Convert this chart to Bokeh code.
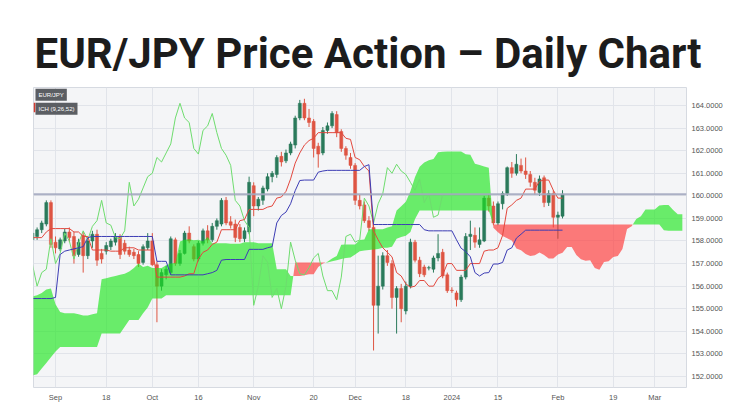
import numpy as np
import pandas as pd
from bokeh.plotting import figure
from bokeh.models import Range1d, FixedTicker, PrintfTickFormatter, Label, Span, BoxAnnotation
from bokeh.embed import file_html
from bokeh.resources import INLINE

# ---------------- data ----------------
start_date = "2023-08-25"

opens = [158.05, 158.2, 158.5, 158.75, 159.7, 157.95, 157.65, 158.0, 158.4, 158.2,
         157.4, 158.25, 157.35, 158.0, 158.3, 157.45, 157.55, 157.75, 157.95, 158.2,
         157.9, 157.6, 157.5, 157.4, 157.05, 157.7, 158.0, 156.95, 156.0, 156.5,
         156.6, 158.05, 157.0, 157.45, 158.35, 157.75, 157.2, 157.9, 158.45, 158.05,
         158.65, 158.75, 159.8, 158.85, 158.75, 158.6, 158.1, 158.4, 160.45, 159.55,
         159.8, 160.3, 160.85, 160.95, 161.75, 161.55, 161.9, 162.25, 163.45, 164.1,
         163.45, 163.3, 162.2, 161.9, 162.9, 163.1, 163.6, 162.85, 162.1, 161.7,
         161.35, 159.8, 159.6, 158.9, 158.6, 155.15, 156.0, 157.35, 157.0, 155.5,
         155.9, 154.9, 156.0, 157.95, 157.15, 156.85, 156.8, 156.75, 157.25, 157.5,
         156.5, 155.82, 155.7, 155.4, 156.4, 158.2, 158.25, 157.85, 158.0, 159.9,
         159.55, 158.8, 159.65, 160.1, 161.25, 161.0, 161.35, 161.1, 160.95, 160.6,
         160.15, 160.8, 159.7, 160.1, 159.05, 159.1]
highs = [158.5, 158.6, 158.9, 159.8, 159.8, 158.2, 158.15, 158.55, 158.6, 158.4,
         158.1, 158.4, 158.15, 158.45, 158.5, 157.65, 157.95, 158.1, 158.35, 158.3,
         158.05, 157.75, 157.65, 157.55, 157.85, 158.35, 158.35, 157.1, 156.75, 156.9,
         158.2, 158.15, 157.6, 158.45, 158.65, 157.85, 158.0, 158.55, 158.7, 158.8,
         159.0, 159.9, 159.95, 159.1, 158.95, 158.75, 158.6, 160.85, 160.6, 159.95,
         160.45, 161.0, 161.1, 161.8, 161.95, 162.05, 162.4, 163.55, 164.25, 164.3,
         163.85, 163.4, 162.35, 163.05, 163.25, 163.75, 163.75, 162.95, 162.2, 161.9,
         161.45, 160.05, 159.75, 159.1, 158.75, 157.35, 157.5, 157.6, 157.15, 156.0,
         156.1, 156.2, 158.1, 158.05, 157.3, 156.95, 156.9, 157.35, 158.3, 157.65,
         156.6, 155.95, 155.8, 156.5, 158.35, 158.9, 158.6, 158.6, 160.0, 160.05,
         159.75, 159.75, 160.2, 161.3, 161.5, 161.85, 161.65, 161.7, 161.1, 160.8,
         160.9, 160.9, 160.25, 160.25, 159.3, 160.25]
lows = [157.9, 158.05, 158.35, 158.65, 157.7, 157.45, 157.55, 157.9, 157.95, 157.0,
        157.3, 156.6, 157.2, 157.7, 156.9, 157.0, 157.4, 157.6, 157.8, 157.2,
        157.4, 157.3, 157.2, 156.85, 156.95, 157.6, 156.9, 154.4, 155.8, 156.3,
        156.5, 156.9, 156.9, 157.4, 157.9, 157.1, 157.1, 157.8, 157.9, 157.95,
        158.5, 158.65, 158.7, 158.55, 157.95, 157.95, 157.95, 158.3, 159.1, 159.35,
        159.6, 160.2, 160.6, 160.8, 161.3, 161.45, 161.8, 162.1, 163.35, 163.35,
        163.05, 161.7, 161.25, 161.8, 162.75, 163.0, 162.6, 161.95, 161.6, 161.2,
        159.6, 159.4, 158.8, 158.45, 153.15, 153.9, 155.85, 156.9, 155.0, 153.9,
        154.4, 154.75, 155.9, 157.05, 156.4, 156.4, 156.7, 156.6, 157.1, 156.35,
        155.7, 155.7, 155.1, 155.3, 156.3, 157.6, 157.7, 157.7, 157.95, 159.3,
        158.7, 158.7, 159.4, 160.0, 160.8, 160.9, 161.0, 160.75, 160.4, 160.05,
        160.0, 159.5, 159.55, 158.6, 158.1, 159.0]
closes = [158.35, 158.5, 158.8, 159.7, 157.85, 157.7, 158.05, 158.4, 158.15, 157.35,
          157.95, 157.35, 158.0, 158.3, 157.15, 157.2, 157.8, 158.0, 158.2, 157.4,
          157.55, 157.4, 157.35, 157.0, 157.75, 158.0, 156.95, 156.0, 156.6, 156.75,
          158.1, 157.0, 157.45, 158.35, 158.0, 157.2, 157.9, 158.45, 158.05, 158.65,
          158.9, 159.8, 158.8, 158.7, 158.15, 158.1, 158.45, 160.6, 159.55, 159.85,
          160.35, 160.85, 161.0, 161.7, 161.5, 161.9, 162.3, 163.45, 164.1, 163.45,
          163.25, 162.1, 161.85, 162.9, 163.1, 163.65, 162.8, 162.1, 161.8, 161.35,
          159.8, 159.55, 158.9, 158.6, 155.15, 156.0, 157.35, 157.05, 155.5, 155.9,
          155.0, 156.0, 157.95, 157.15, 156.55, 156.5, 156.82, 157.25, 157.45, 156.45,
          155.8, 155.8, 155.4, 156.4, 158.2, 158.3, 157.95, 158.05, 159.9, 159.55,
          158.8, 159.65, 160.1, 161.25, 161.0, 161.4, 161.1, 160.95, 160.6, 160.25,
          160.75, 159.7, 160.1, 159.05, 159.15, 160.073]

# Ichimoku lines
tenkan = [158.15, 158.15, 158.15, 158.4, 158.55, 158.55, 158.55, 158.55, 158.55, 158.4,
          158.4, 158.2, 158.2, 157.6, 157.6, 157.6, 157.6, 157.55, 157.55, 157.55,
          157.7, 157.7, 157.7, 157.6, 157.6, 157.6, 157.6, 156.4, 156.4, 156.4,
          156.4, 156.4, 156.4, 156.45, 156.55, 156.55, 157.2, 157.5, 157.6, 157.85,
          157.95, 158.5, 158.5, 158.5, 158.5, 158.9, 158.95, 159.4, 159.4, 159.4,
          159.4, 159.5, 159.55, 159.9, 159.95, 160.2, 160.75, 161.45, 161.9, 162.25,
          162.45, 162.55, 162.8, 162.8, 162.8, 162.8, 162.8, 162.8, 162.55, 162.5,
          161.7, 161.6, 161.3, 161.1, 158.45, 158.05, 157.7, 157.5, 157.3, 156.6,
          156.45, 156.1, 155.95, 156.0, 156.25, 156.25, 156.0, 156.0, 156.35, 156.5,
          157.0, 157.0, 156.7, 156.7, 156.7, 157.0, 157.0, 157.0, 157.55, 157.6,
          157.6, 157.7, 158.25, 159.45, 159.6, 159.8, 159.9, 160.3, 160.3, 160.3,
          160.65, 160.7, 160.7, 160.25, 159.9, 159.9]
kijun = [155.45, 155.45, 155.45, 155.45, 155.45, 155.5, 157.4, 157.55, 157.6, 157.65,
         157.7, 157.75, 158.15, 158.2, 158.2, 158.2, 158.2, 158.2, 158.2, 158.2,
         158.2, 158.2, 158.2, 158.2, 158.2, 158.2, 158.2, 157.1, 157.1, 157.1,
         156.5, 156.5, 156.5, 156.5, 156.5, 156.5, 156.5, 156.5, 156.55, 156.6,
         156.7, 157.15, 157.18, 157.18, 157.18, 157.18, 157.18, 157.63, 157.63, 157.63,
         157.63, 157.7, 157.75, 158.8, 159.13, 159.28, 159.65, 160.23, 160.68, 160.7,
         160.7, 160.7, 161.05, 161.1, 161.13, 161.13, 161.13, 161.13, 161.13, 161.13,
         161.13, 161.13, 161.3, 161.38, 158.73, 158.73, 158.73, 158.73, 158.73, 158.73,
         158.73, 158.73, 158.73, 158.73, 158.73, 158.5, 158.45, 158.45, 158.45, 158.45,
         158.45, 158.45, 158.05, 157.68, 157.53, 157.3, 156.6, 156.45, 156.58, 156.6,
         156.98, 156.98, 157.05, 157.6, 157.7, 158.13, 158.3, 158.48, 158.48, 158.48,
         158.48, 158.48, 158.48, 158.48, 158.48, 158.48]
span_a = [155.55, 155.6, 155.7, 155.85, 155.9, 155.2, 154.85, 154.8, 154.8, 154.8,
          154.75, 154.7, 154.7, 154.75, 154.8, 156.3, 156.35, 156.4, 156.45, 156.5,
          156.55, 156.65, 156.8, 157.0, 156.85, 156.9, 156.8, 156.8, 156.8, 156.93,
          157.0, 157.03, 157.98, 158.05, 158.08, 158.03, 158.05, 157.98, 158.18, 157.9,
          157.9, 157.9, 157.9, 157.88, 157.88, 157.88, 157.95, 157.95, 157.95, 157.9,
          157.9, 157.9, 157.9, 156.75, 156.75, 156.75, 156.45, 156.45, 156.45, 156.48,
          156.53, 156.53, 156.85, 157.0, 157.08, 157.23, 157.33, 157.83, 157.84, 157.84,
          157.84, 158.04, 158.07, 158.52, 158.52, 158.52, 158.52, 158.6, 158.65, 159.35,
          159.54, 159.74, 160.2, 160.84, 161.29, 161.48, 161.58, 161.63, 161.93, 161.95,
          161.97, 161.97, 161.97, 161.97, 161.84, 161.82, 161.42, 161.37, 161.3, 161.24,
          158.59, 158.39, 158.22, 158.12, 158.02, 157.67, 157.59, 157.42, 157.34, 157.37,
          157.49, 157.38, 157.23, 157.23, 157.4, 157.48, 157.73, 157.73, 157.38, 157.19,
          157.12, 157.15, 156.8, 156.73, 157.07, 157.1, 157.29, 157.34, 157.65, 158.53,
          158.65, 158.97, 159.1, 159.39, 159.39, 159.39, 159.57, 159.59, 159.59, 159.37,
          159.19, 159.19]
span_b = [152.05, 152.1, 152.35, 152.6, 152.85, 153.1, 153.3, 153.3, 153.3, 153.3,
          153.3, 153.3, 153.3, 153.3, 153.3, 153.9, 153.9, 153.9, 153.9, 153.9,
          154.2, 154.5, 154.5, 154.5, 154.8, 155.05, 155.45, 155.45, 155.45, 155.6,
          155.6, 155.6, 155.6, 155.6, 155.6, 155.6, 155.6, 155.6, 155.6, 155.6,
          155.6, 155.6, 155.6, 155.6, 155.6, 155.6, 155.6, 155.6, 155.6, 155.6,
          155.6, 155.6, 155.6, 155.6, 155.6, 155.6, 155.6, 157.05, 157.05, 157.05,
          157.05, 157.05, 157.05, 157.05, 157.05, 157.1, 157.15, 157.2, 157.25, 157.27,
          157.4, 157.55, 157.58, 157.6, 157.62, 157.65, 157.7, 157.7, 157.75, 158.1,
          158.18, 158.23, 158.4, 158.98, 159.35, 159.35, 159.35, 159.35, 159.35, 159.35,
          159.35, 159.35, 159.35, 159.35, 159.35, 159.35, 159.35, 159.35, 159.35, 159.35,
          158.73, 158.73, 158.73, 158.73, 158.73, 158.73, 158.73, 158.73, 158.73, 158.73,
          158.73, 158.73, 158.73, 158.73, 158.73, 158.73, 158.73, 158.73, 158.73, 158.73,
          158.73, 158.73, 158.73, 158.73, 158.73, 158.73, 158.73, 158.73, 158.73, 158.73,
          158.73, 158.73, 158.73, 158.73, 158.73, 158.73, 158.73, 158.48, 158.45, 158.45,
          158.45, 158.45]
chikou_shift = 26

tick_dates = ["2023-09-01", "2023-09-18", "2023-10-02", "2023-10-16", "2023-11-01",
              "2023-11-20", "2023-12-01", "2023-12-18", "2024-01-01", "2024-01-15",
              "2024-02-01", "2024-02-19", "2024-03-01"]
tick_labels = ["Sep", "18", "Oct", "16", "Nov", "20", "Dec", "18", "2024", "15",
               "Feb", "19", "Mar"]
price_ticks = [152, 153, 154, 155, 156, 157, 158, 159, 160, 161, 162, 163, 164]
last_price = 160.073
title_text = "EUR/JPY Price Action \u2013 Daily Chart"

# ---------------- build ----------------
all_dates = pd.bdate_range(start_date, periods=len(span_a))
tick_pos = [int(all_dates.get_loc(pd.Timestamp(d))) for d in tick_dates]

o = np.array(opens); h = np.array(highs); l = np.array(lows); c = np.array(closes)
idx = np.arange(len(closes))
up = c >= o
dn = ~up

UP = "#2a7a5b"
DN = "#de5543"

p = figure(width=750, height=412, output_backend="svg", toolbar_location=None,
           x_range=Range1d(0.22, 141.9), y_range=Range1d(151.51, 164.8),
           y_axis_location="right",
           min_border_left=33, min_border_right=64, min_border_top=87, min_border_bottom=25)

p.background_fill_color = "#f4f5f7"
p.border_fill_color = "white"
p.outline_line_color = "#d6dae1"

# title
p.title.text = title_text
p.title.text_font = "Roboto"
p.title.text_font_style = "bold"
p.title.text_font_size = "42px"
p.title.text_color = "#1c1c1c"
p.title.offset = 1
p.title.standoff = 20

# axes
p.xaxis.ticker = FixedTicker(ticks=tick_pos)
p.xaxis.major_label_overrides = {tp: lab for tp, lab in zip(tick_pos, tick_labels)}
p.yaxis.ticker = FixedTicker(ticks=price_ticks)
p.yaxis.formatter = PrintfTickFormatter(format="%.4f")
for ax in (p.xaxis, p.yaxis):
    ax.axis_line_color = None
    ax.major_tick_line_color = None
    ax.minor_tick_line_color = None
    ax.major_tick_out = 0
    ax.major_tick_in = 0
    ax.minor_tick_out = 0
    ax.major_label_text_font = "Liberation Sans"
    ax.major_label_text_font_size = "7.5px"
    ax.major_label_text_color = "#555555"
p.xaxis.major_label_standoff = 5
p.yaxis.major_label_standoff = 5
p.xgrid.ticker = FixedTicker(ticks=tick_pos)
p.ygrid.ticker = FixedTicker(ticks=price_ticks)
p.xgrid.grid_line_color = "#e1e4ea"
p.ygrid.grid_line_color = "#e1e4ea"

# candles
p.segment(idx[up], h[up], idx[up], l[up], color=UP, line_width=1)
p.segment(idx[dn], h[dn], idx[dn], l[dn], color=DN, line_width=1)
p.vbar(idx[up], 0.66, o[up], c[up], fill_color=UP, line_color=UP, line_width=0.5)
p.vbar(idx[dn], 0.66, o[dn], c[dn], fill_color=DN, line_color=DN, line_width=0.5)

# cloud with crossing points inserted so fills meet exactly
cx, ca, cb = [], [], []
for i in range(len(span_a)):
    if i > 0:
        d0 = span_a[i - 1] - span_b[i - 1]
        d1 = span_a[i] - span_b[i]
        if d0 * d1 < 0:
            t = d0 / (d0 - d1)
            yc = span_a[i - 1] + t * (span_a[i] - span_a[i - 1])
            cx.append(i - 1 + t); ca.append(yc); cb.append(yc)
    cx.append(i); ca.append(span_a[i]); cb.append(span_b[i])
cx = np.array(cx); ca = np.array(ca); cb = np.array(cb)
top = np.maximum(ca, cb)
p.varea(x=cx, y1=cb, y2=top, fill_color="#1ee61e", fill_alpha=0.65)
p.varea(x=cx, y1=ca, y2=top, fill_color="#ff3535", fill_alpha=0.65)

# lines
p.line(idx[:-chikou_shift], c[chikou_shift:], line_color="#6edc6e", line_width=1)
p.line(idx, tenkan, line_color="#e2483e", line_width=1)
p.line(idx, kijun, line_color="#3c3cb4", line_width=1)

# last price line and tag
p.add_layout(Span(location=last_price, dimension="width", line_color="#a3a9bf",
                  line_width=2, line_alpha=0.9))
p.add_layout(Label(x=142.55, y=last_price, text="%.4f" % last_price,
                   text_baseline="middle", text_align="left",
                   text_font="Liberation Sans", text_font_size="7.5px", text_color="white",
                   background_fill_color="#1e2b4c", padding=2, border_radius=2))

# legend tags
p.add_layout(Label(x=0.65, y=164.75, text="EUR/JPY", text_baseline="top",
                   text_font="Liberation Sans", text_font_size="6px", text_color="white",
                   background_fill_color="#5b5e63", padding=3))
p.add_layout(Label(x=0.65, y=164.12, text="ICH (9,26,52)", text_baseline="top",
                   text_font="Liberation Sans", text_font_size="6px", text_color="white",
                   background_fill_color="#5b5e63", padding=3))
p.add_layout(BoxAnnotation(left=0.22, right=0.6, top=164.12, bottom=163.7,
                           fill_color="#d43a2f", fill_alpha=1, line_color=None))

open("out.html", "w").write(file_html(p, INLINE))
